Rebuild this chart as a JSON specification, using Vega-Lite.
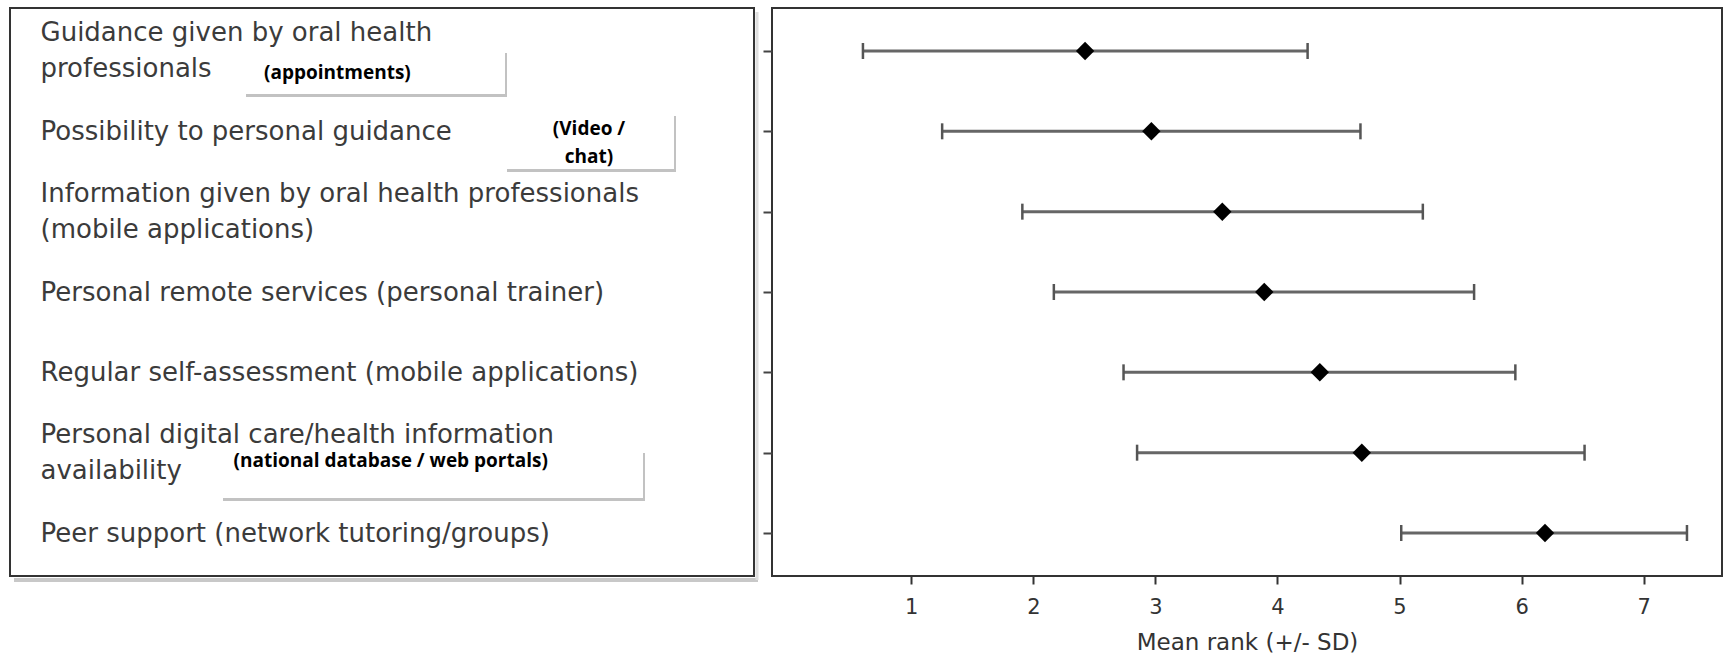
{
  "$schema": "https://vega.github.io/schema/vega-lite/v6.json",
  "padding": {"left": 9, "top": 7, "right": 0, "bottom": 0},
  "background": "white",
  "bounds": "flush",
  "spacing": 18,
  "resolve": {"scale": {"y": "shared"}},
  "datasets": {
    "items": [
      {"rank": 1, "item": "Guidance given by oral health\nprofessionals", "lower": 0.604, "mean": 2.424, "upper": 4.247, "note": "(appointments)"},
      {"rank": 2, "item": "Possibility to personal guidance", "lower": 1.253, "mean": 2.967, "upper": 4.68, "note": "(Video /\nchat)"},
      {"rank": 3, "item": "Information given by oral health professionals\n(mobile applications)", "lower": 1.91, "mean": 3.548, "upper": 5.191, "note": ""},
      {"rank": 4, "item": "Personal remote services (personal trainer)", "lower": 2.168, "mean": 3.892, "upper": 5.611, "note": ""},
      {"rank": 5, "item": "Regular self-assessment (mobile applications)", "lower": 2.739, "mean": 4.347, "upper": 5.949, "note": ""},
      {"rank": 6, "item": "Personal digital care/health information\navailability", "lower": 2.85, "mean": 4.691, "upper": 6.516, "note": "(national database / web portals)"},
      {"rank": 7, "item": "Peer support (network tutoring/groups)", "lower": 5.014, "mean": 6.192, "upper": 7.355, "note": ""}
    ]
  },
  "hconcat": [
    {
      "width": 744,
      "height": 568,
      "data": {"name": "items"},
      "encoding": {
        "y": {"field": "item", "type": "nominal", "sort": {"field": "rank", "op": "min"}, "axis": null}
      },
      "layer": [
        {
          "transform": [{"filter": "datum.rank == 7"}],
          "mark": {"type": "rule", "color": "#c8c8c8", "strokeWidth": 4},
          "encoding": {"x": {"value": 4}, "x2": {"value": 748}, "y": {"value": 572}}
        },
        {
          "transform": [{"filter": "datum.rank == 7"}],
          "mark": {"type": "rule", "color": "#dedede", "strokeWidth": 3},
          "encoding": {"x": {"value": 747}, "y": {"value": 4}, "y2": {"value": 572}}
        },
        {
          "transform": [{"filter": "datum.rank == 1"}],
          "mark": {"type": "tick", "orient": "horizontal", "color": "#c2c2c2", "opacity": 1, "size": 261, "thickness": 44, "yOffset": 24},
          "encoding": {"x": {"value": 366.5}}
        },
        {
          "transform": [{"filter": "datum.rank == 1"}],
          "mark": {"type": "tick", "orient": "horizontal", "color": "white", "opacity": 1, "size": 261, "thickness": 44, "yOffset": 21},
          "encoding": {"x": {"value": 364.5}}
        },
        {
          "transform": [{"filter": "datum.rank == 1"}],
          "mark": {"type": "text", "align": "left", "baseline": "alphabetic", "font": "Open Sans", "fontWeight": "bold", "fontSize": 19, "color": "black", "dy": 28},
          "encoding": {"x": {"value": 254}, "text": {"field": "note"}}
        },
        {
          "transform": [{"filter": "datum.rank == 2"}],
          "mark": {"type": "tick", "orient": "horizontal", "color": "#c2c2c2", "opacity": 1, "size": 169, "thickness": 56, "yOffset": 12.7},
          "encoding": {"x": {"value": 581.5}}
        },
        {
          "transform": [{"filter": "datum.rank == 2"}],
          "mark": {"type": "tick", "orient": "horizontal", "color": "white", "opacity": 1, "size": 169, "thickness": 56, "yOffset": 9.7},
          "encoding": {"x": {"value": 579.5}}
        },
        {
          "transform": [{"filter": "datum.rank == 2"}],
          "mark": {"type": "text", "align": "center", "baseline": "alphabetic", "font": "Open Sans", "fontWeight": "bold", "fontSize": 19, "color": "black", "dy": 4, "lineBreak": "\n", "lineHeight": 28},
          "encoding": {"x": {"value": 579}, "text": {"field": "note"}}
        },
        {
          "transform": [{"filter": "datum.rank == 6"}],
          "mark": {"type": "tick", "orient": "horizontal", "color": "#c2c2c2", "opacity": 1, "size": 422, "thickness": 48, "yOffset": 24.3},
          "encoding": {"x": {"value": 424}}
        },
        {
          "transform": [{"filter": "datum.rank == 6"}],
          "mark": {"type": "tick", "orient": "horizontal", "color": "white", "opacity": 1, "size": 422, "thickness": 48, "yOffset": 21.3},
          "encoding": {"x": {"value": 422}}
        },
        {
          "transform": [{"filter": "datum.rank == 6"}],
          "mark": {"type": "text", "align": "left", "baseline": "alphabetic", "font": "Open Sans", "fontWeight": "bold", "fontSize": 19, "color": "black", "dy": 14},
          "encoding": {"x": {"value": 223.6}, "text": {"field": "note"}}
        }
      ]
    },
    {
      "width": 950,
      "height": 568,
      "data": {"name": "items"},
      "encoding": {
        "y": {
          "field": "item",
          "type": "nominal",
          "sort": {"field": "rank", "op": "min"},
          "scale": {"type": "point", "padding": 0.535},
          "axis": {
            "title": null,
            "domain": false,
            "grid": false,
            "ticks": true,
            "tickSize": 9,
            "tickWidth": 2,
            "tickColor": "#444444",
            "labelAlign": "left",
            "labelBaseline": "middle",
            "labelPadding": 723,
            "labelLimit": 900,
            "labelFont": "DejaVu Sans",
            "labelFontSize": 26,
            "labelColor": "#3b3b3b",
            "labelLineHeight": 36,
            "labelOffset": {"condition": {"test": "indexof(datum.label, '\\n') >= 0", "value": -18}, "value": 0},
            "labelExpr": "split(datum.label, '\\n')"
          }
        }
      },
      "layer": [
        {
          "mark": {"type": "rule", "color": "#666666", "strokeWidth": 3},
          "encoding": {
            "x": {"field": "lower", "type": "quantitative", "title": "Mean rank (+/- SD)", "scale": {"domain": [-0.141, 7.642], "nice": false, "zero": false}, "axis": {"values": [1, 2, 3, 4, 5, 6, 7]}},
            "x2": {"field": "upper"}
          }
        },
        {
          "transform": [{"fold": ["lower", "upper"], "as": ["end", "value"]}],
          "mark": {"type": "tick", "orient": "vertical", "color": "#555555", "opacity": 1, "thickness": 2.5, "size": 16},
          "encoding": {
            "x": {"field": "value", "type": "quantitative", "title": "Mean rank (+/- SD)", "axis": {"values": [1, 2, 3, 4, 5, 6, 7]}}
          }
        },
        {
          "mark": {"type": "point", "shape": "diamond", "filled": true, "color": "black", "opacity": 1, "size": 340},
          "encoding": {
            "x": {"field": "mean", "type": "quantitative", "title": "Mean rank (+/- SD)", "axis": {"values": [1, 2, 3, 4, 5, 6, 7]}}
          }
        }
      ]
    }
  ],
  "config": {
    "view": {"stroke": "#333333", "strokeWidth": 2},
    "axisX": {
      "domain": false,
      "grid": false,
      "tickSize": 8,
      "tickWidth": 2,
      "tickColor": "#333333",
      "labelFont": "DejaVu Sans",
      "labelFontSize": 21,
      "labelColor": "#333333",
      "labelPadding": 12,
      "titleFont": "DejaVu Sans",
      "titleFontSize": 23,
      "titleFontWeight": "normal",
      "titleColor": "#333333",
      "titlePadding": 14
    }
  }
}
